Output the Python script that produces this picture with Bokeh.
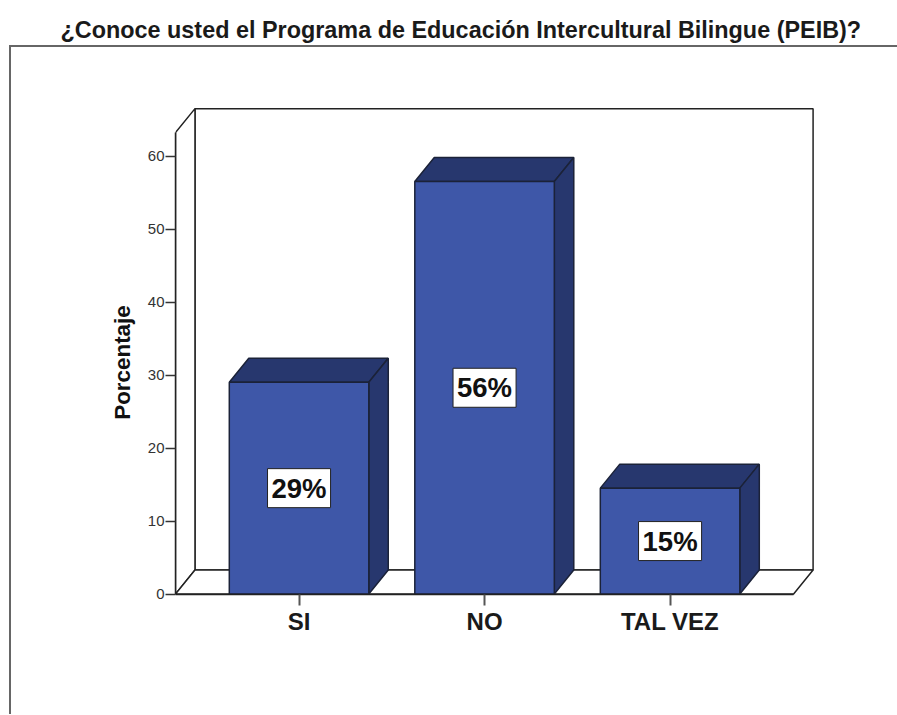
from bokeh.plotting import figure
from bokeh.models import Range1d, FixedTicker, Title
from bokeh.core.properties import value
from bokeh.embed import file_html
from bokeh.resources import INLINE

title_text = "¿Conoce usted el Programa de Educación Intercultural Bilingue (PEIB)?"
categories = ["SI", "NO", "TAL VEZ"]
percent = [29.0, 56.5, 14.5]
bar_labels = ["29%", "56%", "15%"]
y_ticks = [0, 10, 20, 30, 40, 50, 60]
y_label = "Porcentaje"

FONT = "Liberation Sans"
FRONT = "#3E57A8"
DARK = "#27376E"
EDGE = "#1B2238"
WALL = "#222222"

W = 0.752      # bar width in category units
DX = 0.105     # depth offset, category units
DY = 3.29      # depth offset, value units
XL, XR = -0.666, 2.666
YTOP = 63.2

xpos = list(range(len(categories)))

p = figure(width=897, height=715, output_backend="svg", toolbar_location=None,
           title=None,
           x_range=Range1d(XL, 2.784), y_range=Range1d(-5.274, 68.699),
           frame_width=640, frame_height=540,
           min_border_left=175, min_border_right=82,
           min_border_top=92, min_border_bottom=83,
           background_fill_color="white", border_fill_color=None)
p.outline_line_color = None
p.grid.visible = False

# outer box of the chart area: top and left rules, running off the page
p.styles = {
    "background-color": "white",
    "background-image": "linear-gradient(#666666,#666666), linear-gradient(#666666,#666666)",
    "background-size": "887px 2px, 2px 669px",
    "background-position": "10px 45px, 9px 45px",
    "background-repeat": "no-repeat",
}

# chart title, lifted clear of the plot by a blank spacer panel underneath it
p.add_layout(Title(text=" ", standoff=8, text_font=FONT, text_font_size="23.4px"), "above")
p.add_layout(Title(text=title_text, align="left", offset=-115, standoff=28,
                   text_font=FONT, text_font_size="23.4px", text_font_style="bold",
                   text_color="#1a1a1a"), "above")

# walls and floor
p.patch([XL + DX, XR + DX, XR + DX, XL + DX], [DY, DY, YTOP + DY, YTOP + DY],
        fill_color="white", line_color=WALL, line_width=1.5)
p.patch([XL, XL + DX, XL + DX, XL], [0, DY, YTOP + DY, YTOP],
        fill_color="white", line_color=WALL, line_width=1.5)
p.patch([XL, XR, XR + DX, XL + DX], [0, 0, DY, DY],
        fill_color="white", line_color=WALL, line_width=1.5)

# bars
for x, v in zip(xpos, percent):
    l, r = x - W / 2, x + W / 2
    p.patch([l, r, r + DX, l + DX], [v, v, v + DY, v + DY],
            fill_color=DARK, line_color=EDGE, line_width=1.5)
    p.patch([r, r + DX, r + DX, r], [0, DY, v + DY, v],
            fill_color=DARK, line_color=EDGE, line_width=1.5)
    p.quad(left=[l], right=[r], bottom=[0], top=[v],
           fill_color=FRONT, line_color=EDGE, line_width=1.5)

# value labels
p.text(x=xpos, y=[v / 2 for v in percent], text=bar_labels,
       text_align="center", text_baseline="middle",
       text_font=value(FONT), text_font_size="27.5px", text_font_style="bold",
       text_color="#111111", background_fill_color="white",
       border_line_color="#222222", border_line_width=1, padding=4)

# axes
xa = p.xaxis[0]
xa.fixed_location = 0
xa.bounds = (XL, XR)
xa.ticker = FixedTicker(ticks=xpos)
xa.major_label_overrides = {i: c for i, c in zip(xpos, categories)}
xa.major_label_text_font = FONT
xa.major_label_text_font_size = "24px"
xa.major_label_text_font_style = "bold"
xa.major_label_text_color = "#1a1a1a"
xa.major_label_standoff = 3
xa.major_tick_out = 11
xa.major_tick_in = 0
xa.major_tick_line_color = "#555555"
xa.major_tick_line_width = 2
xa.minor_tick_line_color = None
xa.axis_line_color = WALL
xa.axis_line_width = 1.5

ya = p.yaxis[0]
ya.bounds = (0, YTOP)
ya.ticker = FixedTicker(ticks=y_ticks)
ya.axis_label = y_label
ya.axis_label_text_font = FONT
ya.axis_label_text_font_size = "22.4px"
ya.axis_label_text_font_style = "bold"
ya.axis_label_text_color = "#111111"
ya.axis_label_standoff = 10
ya.major_label_text_font = FONT
ya.major_label_text_font_size = "15px"
ya.major_label_text_color = "#333333"
ya.major_label_standoff = 1
ya.major_tick_out = 10
ya.major_tick_in = 0
ya.major_tick_line_color = "#333333"
ya.major_tick_line_width = 1.5
ya.minor_tick_line_color = None
ya.axis_line_color = WALL
ya.axis_line_width = 1.5

open("out.html", "w").write(file_html(p, INLINE))
